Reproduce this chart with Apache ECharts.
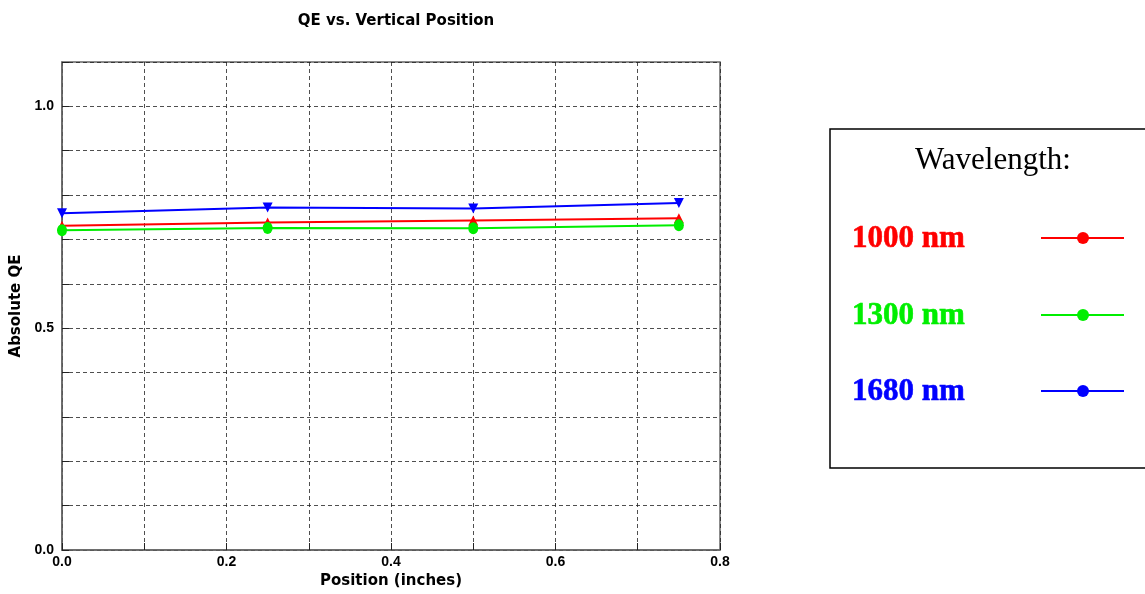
<!DOCTYPE html>
<html>
<head>
<meta charset="utf-8">
<script src="https://cdn.jsdelivr.net/npm/echarts@6/dist/echarts.min.js"></script>
<style>
  html, body { margin: 0; padding: 0; background: #fff; }
  #chart { width: 1145px; height: 594px; }
</style>
</head>
<body>
<div id="chart"></div>
<script>
// data
const positions = [0, 0.25, 0.5, 0.75];
const qe1000 = [0.731, 0.738, 0.743, 0.748];
const qe1300 = [0.721, 0.726, 0.725, 0.732];
const qe1680 = [0.759, 0.772, 0.770, 0.782];
const legendNames = ['1000 nm', '1300 nm', '1680 nm'];
const seriesColors = ['#ff0000', '#00ee00', '#0000ff'];

const FONT = 'DejaVu Sans';
const TICK_FONT = 'Liberation Sans';
const SERIF = 'Liberation Serif';

function pair(xs, ys) {
  return xs.map((x, i) => [x, ys[i]]);
}

const chart = echarts.init(document.getElementById('chart'));

// legend box drawn by hand (text left, sample on the right)
const legendRows = [236, 313, 389];
const legendGraphic = [
  {
    type: 'rect', z: -1,
    shape: { x: 830, y: 129, width: 330, height: 339 },
    style: { fill: '#fff', stroke: '#000', lineWidth: 1.5 }
  }
];
const titles = [
  {
    text: 'QE vs. Vertical Position',
    left: 391, top: 9, textAlign: 'center',
    textStyle: { fontFamily: FONT, fontSize: 15, fontWeight: 'bold', color: '#000' }
  },
  {
    text: 'Wavelength:',
    left: 988, top: 140, textAlign: 'center',
    textStyle: { fontFamily: SERIF, fontSize: 31, fontWeight: 'normal', color: '#000' }
  }
];
legendNames.forEach((name, i) => {
  const y = legendRows[i];
  titles.push({
    text: name, left: 847, top: y - 18,
    textStyle: {
      fontFamily: SERIF, fontSize: 31, fontWeight: 'bold', color: seriesColors[i],
      textBorderColor: seriesColors[i], textBorderWidth: 0.6
    }
  });
  legendGraphic.push({
    type: 'line',
    shape: { x1: 1041, y1: y + 2, x2: 1124, y2: y + 2 },
    style: { stroke: seriesColors[i], lineWidth: 2 }
  });
  legendGraphic.push({
    type: 'circle',
    shape: { cx: 1083, cy: y + 2, r: 6 },
    style: { fill: seriesColors[i] }
  });
});

const option = {
  animation: false,
  title: titles,
  grid: {
    left: 62, right: 425, top: 62, bottom: 44,
    show: true, borderColor: '#666', borderWidth: 1.5
  },
  xAxis: {
    type: 'value',
    min: 0, max: 0.8, interval: 0.1,
    name: 'Position (inches)',
    nameLocation: 'middle', nameGap: 18,
    nameTextStyle: { fontFamily: FONT, fontSize: 15, fontWeight: 'bold', color: '#000' },
    axisLine: { show: true, onZero: false, lineStyle: { color: '#666', width: 1.5 } },
    axisTick: { show: true, inside: true, length: 7, lineStyle: { color: '#222' } },
    axisLabel: {
      fontFamily: TICK_FONT, fontSize: 14, fontWeight: 'bold', color: '#000', margin: 5,
      showMaxLabel: true, showMinLabel: true,
      formatter: v => (Math.round(v * 10) % 2 === 0 ? v.toFixed(1) : '')
    },
    splitLine: { show: true, lineStyle: { color: '#222', type: [4, 3], width: 0.8 } }
  },
  yAxis: {
    type: 'value',
    min: 0, max: 1.1, interval: 0.1,
    name: 'Absolute QE',
    nameLocation: 'middle', nameGap: 38,
    nameTextStyle: { fontFamily: FONT, fontSize: 15, fontWeight: 'bold', color: '#000' },
    axisLine: { show: true, onZero: false, lineStyle: { color: '#666', width: 1.5 } },
    axisTick: { show: true, inside: true, length: 7, lineStyle: { color: '#222' } },
    axisLabel: {
      fontFamily: TICK_FONT, fontSize: 14, fontWeight: 'bold', color: '#000', margin: 8,
      formatter: v => {
        const t = Math.round(v * 10);
        return t % 5 === 0 && t <= 10 ? (t / 10).toFixed(1) : '';
      }
    },
    splitLine: { show: true, lineStyle: { color: '#222', type: [4, 3], width: 0.8 } }
  },
  series: [
    {
      name: legendNames[0], type: 'line',
      data: pair(positions, qe1000),
      symbol: 'triangle', symbolSize: 10,
      itemStyle: { color: seriesColors[0] },
      lineStyle: { color: seriesColors[0], width: 2 }
    },
    {
      name: legendNames[1], type: 'line',
      data: pair(positions, qe1300),
      symbol: 'circle', symbolSize: [10, 12],
      itemStyle: { color: seriesColors[1] },
      lineStyle: { color: seriesColors[1], width: 2 }
    },
    {
      name: legendNames[2], type: 'line',
      data: pair(positions, qe1680),
      symbol: 'triangle', symbolSize: 10, symbolRotate: 180,
      itemStyle: { color: seriesColors[2] },
      lineStyle: { color: seriesColors[2], width: 2 }
    }
  ],
  graphic: legendGraphic
};

chart.setOption(option);
</script>
</body>
</html>
